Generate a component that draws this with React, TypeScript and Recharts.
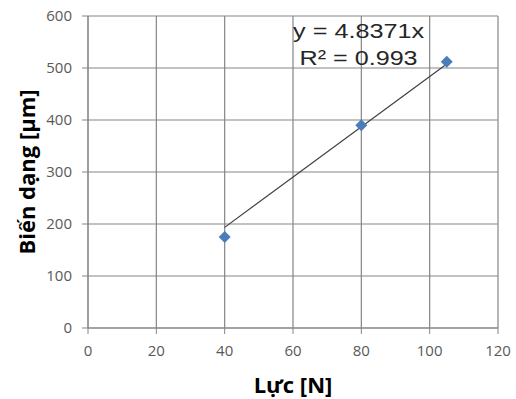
import {
  CartesianGrid,
  ReferenceDot,
  Scatter,
  ScatterChart,
  XAxis,
  YAxis,
} from 'recharts';

const forceN = [40, 80, 105];
const deformUm = [175, 390, 512];

const trendX = [40, 105];
const trendY = [193.5, 507.9];

const xTicks = [0, 20, 40, 60, 80, 100, 120];
const yTicks = [0, 100, 200, 300, 400, 500, 600];

const EQUATION = 'y = 4.8371x';
const R_SQUARED = 'R² = 0.993';

const points = forceN.map((x, i) => ({ x, y: deformUm[i] }));
const trend = trendX.map((x, i) => ({ x, y: trendY[i] }));

const GRID = '#858585';
const TICK = { fontSize: 15, fill: '#595959', fontFamily: 'Open Sans' };
const POINT_COLOR = '#4a7ebb';
const TITLE_STYLE = { fontFamily: 'Open Sans', fontWeight: 700, fontSize: 22, fill: '#000' };

function Diamond(props: any) {
  const { cx, cy } = props;
  if (cx == null || cy == null) return <g />;
  const r = 6;
  return (
    <polygon
      points={`${cx},${cy - r} ${cx + r},${cy} ${cx},${cy + r} ${cx - r},${cy}`}
      fill={POINT_COLOR}
    />
  );
}

function EquationLabel(props: any) {
  const vb = props.viewBox || {};
  const cx = vb.x + (vb.width || 0) / 2;
  const cy = vb.y + (vb.height || 0) / 2;
  const style = { fontFamily: 'Liberation Sans', fontSize: 21, fill: '#262626' };
  return (
    <g>
      <text x={cx} y={cy - 12} textAnchor="middle" textLength={131} lengthAdjust="spacingAndGlyphs" style={style}>
        {EQUATION}
      </text>
      <text x={cx} y={cy + 15} textAnchor="middle" textLength={118} lengthAdjust="spacingAndGlyphs" style={style}>
        {R_SQUARED}
      </text>
    </g>
  );
}

function YTitle(props: any) {
  const vb = props.viewBox || {};
  const x = 26;
  const y = vb.y + vb.height / 2;
  return (
    <text
      x={x}
      y={y}
      transform={`rotate(-90, ${x}, ${y})`}
      textAnchor="middle"
      dominantBaseline="central"
      style={TITLE_STYLE}
    >
      Biến dạng [μm]
    </text>
  );
}

export default function App() {
  return (
    <div style={{ position: 'absolute', left: 0, top: 0, background: '#fff' }}>
      <ScatterChart width={516} height={399} margin={{ top: 16, right: 18, left: 0, bottom: 0 }}>
        <CartesianGrid stroke={GRID} strokeWidth={1.2} />
        <XAxis
          type="number"
          dataKey="x"
          domain={[0, 120]}
          ticks={xTicks}
          height={71}
          stroke={GRID}
          tickSize={6}
          tickMargin={11}
          tick={TICK}
          label={{
            value: 'Lực [N]',
            position: 'insideBottom',
            offset: 6,
            style: TITLE_STYLE,
          }}
        />
        <YAxis
          type="number"
          dataKey="y"
          domain={[0, 600]}
          ticks={yTicks}
          width={88}
          stroke={GRID}
          tickSize={6}
          tickMargin={10}
          tick={TICK}
          label={<YTitle />}
        />
        <Scatter
          data={trend}
          line={{ stroke: '#404040', strokeWidth: 1.2 }}
          shape={() => <g />}
          isAnimationActive={false}
        />
        <Scatter data={points} shape={<Diamond />} isAnimationActive={false} />
        <ReferenceDot
          x={79.2}
          y={535}
          r={1}
          fill="none"
          stroke="none"
          label={<EquationLabel />}
        />
      </ScatterChart>
    </div>
  );
}
